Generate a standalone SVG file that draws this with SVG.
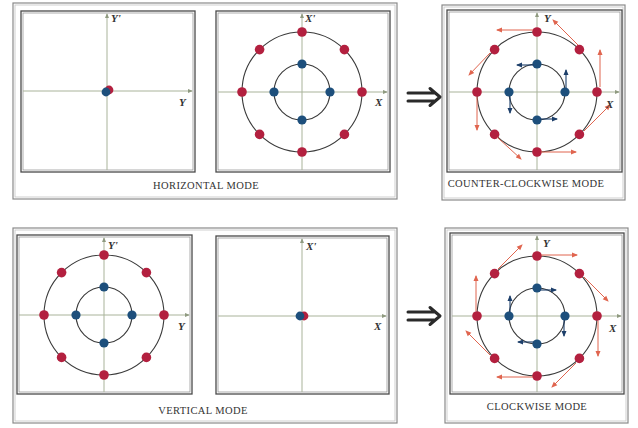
<svg xmlns="http://www.w3.org/2000/svg" width="638" height="428" viewBox="0 0 638 428">
<style>
.bg{fill:#ffffff}
.grp{fill:none;stroke:#8a8a8a;stroke-width:1.2}
.grp2{fill:none;stroke:#c4c4c4;stroke-width:0.8}
.pan{fill:#ffffff;stroke:#4a4a4a;stroke-width:1.3}
.pan2{fill:none;stroke:#8a8a8a;stroke-width:0.7}
.ax{stroke:#a9b39a;stroke-width:1;fill:none}
.ring{fill:none;stroke:#3a3a3a;stroke-width:1.1}
.r{fill:#b3203f}
.b{fill:#1d4f7c}
.va{stroke:#e0654f;stroke-width:1;fill:none;marker-end:url(#ha)}
.vb{stroke:#1d3f6a;stroke-width:1.1;fill:none;marker-end:url(#hb)}
.lab{font-family:"Liberation Serif",serif;font-style:italic;font-weight:bold;font-size:11px;fill:#333}
.cap{font-family:"Liberation Serif",serif;font-size:10.5px;letter-spacing:0.4px;fill:#333;text-anchor:middle}
.dbl{stroke:#2a2a2a;stroke-width:3;fill:none;stroke-linecap:round;stroke-linejoin:round}
</style>
<defs>
<marker id="ha" viewBox="0 0 6 6" refX="5" refY="3" markerWidth="6" markerHeight="6" markerUnits="userSpaceOnUse" orient="auto"><path d="M0,0.5 L6,3 L0,5.5 z" fill="#e0654f"/></marker>
<marker id="hb" viewBox="0 0 6 6" refX="5" refY="3" markerWidth="6" markerHeight="6" markerUnits="userSpaceOnUse" orient="auto"><path d="M0,0.5 L6,3 L0,5.5 z" fill="#1d3f6a"/></marker>
<marker id="hx" viewBox="0 0 6 6" refX="5" refY="3" markerWidth="5" markerHeight="5" markerUnits="userSpaceOnUse" orient="auto"><path d="M0,0.5 L6,3 L0,5.5 z" fill="#8f9a80"/></marker>
<g id="rings">
<circle class="ring" cx="0" cy="0" r="60"/>
<circle class="ring" cx="0" cy="0" r="28"/>
<circle class="r" cx="0" cy="-60" r="4.8"/>
<circle class="r" cx="42.4" cy="-42.4" r="4.8"/>
<circle class="r" cx="60" cy="0" r="4.8"/>
<circle class="r" cx="42.4" cy="42.4" r="4.8"/>
<circle class="r" cx="0" cy="60" r="4.8"/>
<circle class="r" cx="-42.4" cy="42.4" r="4.8"/>
<circle class="r" cx="-60" cy="0" r="4.8"/>
<circle class="r" cx="-42.4" cy="-42.4" r="4.8"/>
<circle class="b" cx="0" cy="-28" r="4.6"/>
<circle class="b" cx="28" cy="0" r="4.6"/>
<circle class="b" cx="0" cy="28" r="4.6"/>
<circle class="b" cx="-28" cy="0" r="4.6"/>
</g>
</defs>
<rect class="bg" x="0" y="0" width="638" height="428"/>

<g id="horizontal-mode">
<rect class="grp" x="13" y="3" width="384" height="196"/>
<rect class="grp2" x="15" y="5" width="380" height="192"/>
<text class="cap" x="206" y="189">HORIZONTAL MODE</text>
</g>
<g id="vertical-mode">
<rect class="grp" x="13" y="228" width="384" height="195"/>
<rect class="grp2" x="15" y="230" width="380" height="191"/>
<text class="cap" x="203" y="414">VERTICAL MODE</text>
</g>
<g id="ccw-mode">
<rect class="grp" x="442" y="5" width="183" height="195"/>
<rect class="grp2" x="444" y="7" width="179" height="191"/>
<text class="cap" x="526" y="187">COUNTER-CLOCKWISE MODE</text>
</g>
<g id="cw-mode">
<rect class="grp" x="445" y="228" width="183" height="195"/>
<rect class="grp2" x="447" y="230" width="179" height="191"/>
<text class="cap" x="537" y="410">CLOCKWISE MODE</text>
</g>

<g id="panel-h-y">
<rect class="pan" x="21" y="11" width="174" height="161"/>
<rect class="pan2" x="23" y="13" width="170" height="157"/>
<line class="ax" x1="107" y1="170" x2="107" y2="14" marker-end="url(#hx)"/>
<line class="ax" x1="23" y1="91" x2="192" y2="91" marker-end="url(#hx)"/>
<circle class="r" cx="109" cy="90" r="4.4"/>
<circle class="b" cx="106" cy="92" r="4.4"/>
<text class="lab" x="111" y="22">Y'</text>
<text class="lab" x="179" y="106">Y</text>
</g>

<g id="panel-h-x">
<rect class="pan" x="216" y="11" width="174" height="161"/>
<rect class="pan2" x="218" y="13" width="170" height="157"/>
<line class="ax" x1="302" y1="170" x2="302" y2="14" marker-end="url(#hx)"/>
<line class="ax" x1="218" y1="92" x2="387" y2="92" marker-end="url(#hx)"/>
<use href="#rings" x="302" y="92"/>
<text class="lab" x="305" y="22">X'</text>
<text class="lab" x="375" y="106">X</text>
</g>

<g id="panel-ccw">
<rect class="pan" x="447" y="10" width="175" height="162"/>
<rect class="pan2" x="449" y="12" width="171" height="158"/>
<line class="ax" x1="537" y1="170" x2="537" y2="13" marker-end="url(#hx)"/>
<line class="ax" x1="449" y1="92" x2="619" y2="92" marker-end="url(#hx)"/>
<use href="#rings" x="537" y="92"/>
<line class="va" x1="533" y1="30" x2="497" y2="30"/>
<line class="va" x1="578" y1="45" x2="553" y2="20"/>
<line class="va" x1="600" y1="87" x2="600" y2="50"/>
<line class="va" x1="584" y1="131" x2="610" y2="105"/>
<line class="va" x1="541" y1="152" x2="576" y2="152"/>
<line class="va" x1="497" y1="137" x2="521" y2="159"/>
<line class="va" x1="477" y1="97" x2="477" y2="130"/>
<line class="va" x1="490" y1="53" x2="469" y2="75"/>
<line class="vb" x1="534" y1="65" x2="517" y2="65"/>
<line class="vb" x1="566" y1="88" x2="566" y2="70"/>
<line class="vb" x1="540" y1="119" x2="557" y2="119"/>
<line class="vb" x1="510" y1="96" x2="510" y2="113"/>
<text class="lab" x="544" y="22">Y</text>
<text class="lab" x="606" y="108">X</text>
</g>

<g id="panel-v-y">
<rect class="pan" x="17" y="235" width="175" height="159"/>
<rect class="pan2" x="19" y="237" width="171" height="155"/>
<line class="ax" x1="104" y1="392" x2="104" y2="238" marker-end="url(#hx)"/>
<line class="ax" x1="19" y1="315" x2="189" y2="315" marker-end="url(#hx)"/>
<use href="#rings" x="104" y="315"/>
<text class="lab" x="108" y="249">Y'</text>
<text class="lab" x="178" y="330">Y</text>
</g>

<g id="panel-v-x">
<rect class="pan" x="216" y="236" width="173" height="158"/>
<rect class="pan2" x="218" y="238" width="169" height="154"/>
<line class="ax" x1="302" y1="392" x2="302" y2="239" marker-end="url(#hx)"/>
<line class="ax" x1="218" y1="316" x2="386" y2="316" marker-end="url(#hx)"/>
<circle class="r" cx="304" cy="316" r="4.4"/>
<circle class="b" cx="300" cy="316" r="4.4"/>
<text class="lab" x="306" y="250">X'</text>
<text class="lab" x="374" y="330">X</text>
</g>

<g id="panel-cw">
<rect class="pan" x="450" y="233" width="174" height="161"/>
<rect class="pan2" x="452" y="235" width="170" height="157"/>
<line class="ax" x1="537" y1="392" x2="537" y2="236" marker-end="url(#hx)"/>
<line class="ax" x1="452" y1="316" x2="621" y2="316" marker-end="url(#hx)"/>
<use href="#rings" x="537" y="316"/>
<line class="va" x1="541" y1="255" x2="577" y2="255"/>
<line class="va" x1="584" y1="277" x2="608" y2="301"/>
<line class="va" x1="598" y1="321" x2="598" y2="356"/>
<line class="va" x1="576" y1="363" x2="552" y2="387"/>
<line class="va" x1="533" y1="377" x2="497" y2="377"/>
<line class="va" x1="490" y1="355" x2="466" y2="331"/>
<line class="va" x1="476" y1="311" x2="476" y2="276"/>
<line class="va" x1="498" y1="269" x2="522" y2="245"/>
<line class="vb" x1="540" y1="290" x2="556" y2="290"/>
<line class="vb" x1="564" y1="320" x2="564" y2="336"/>
<line class="vb" x1="534" y1="342" x2="518" y2="342"/>
<line class="vb" x1="510" y1="312" x2="510" y2="296"/>
<text class="lab" x="543" y="247">Y</text>
<text class="lab" x="609" y="332">X</text>
</g>

<g id="connectors">
<path class="dbl" d="M408,93 L434,93 M408,101 L434,101 M430,88.5 L440,97 L430,105.5"/>
<path class="dbl" d="M408,312 L434,312 M408,320 L434,320 M430,307.5 L440,316 L430,324.5"/>
</g>
</svg>
